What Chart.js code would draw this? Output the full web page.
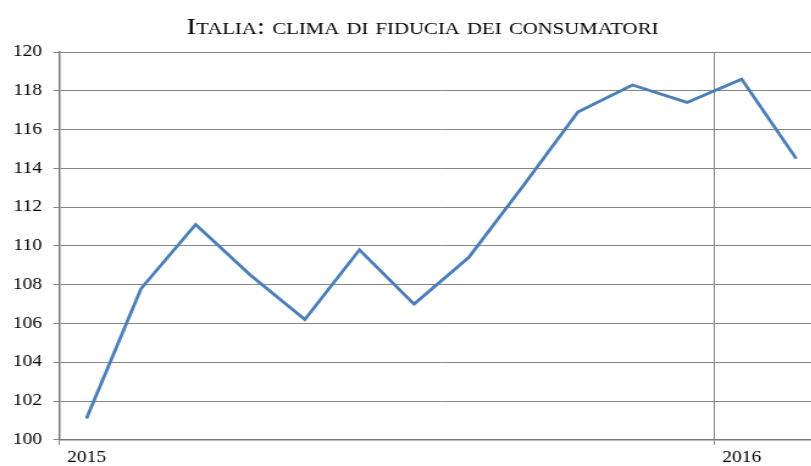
<!DOCTYPE html>
<html>
<head>
<meta charset="utf-8">
<script src="https://cdn.jsdelivr.net/npm/chart.js@4/dist/chart.umd.min.js"></script>
<style>
  html, body { margin: 0; padding: 0; background: #ffffff; overflow: hidden; width: 811px; height: 466px; }
  #wrap { position: absolute; left: 0; top: 0; width: 692px; height: 470px; transform: scaleX(1.22); transform-origin: 0 0; }
  canvas { display: block; }
</style>
</head>
<body>
<div id="wrap"><canvas id="c" width="692" height="470" style="width:692px;height:470px"></canvas></div>
<script>
// Monthly index, Jan 2015 – Feb 2016
const categories = ['2015','','','','','','','','','','','','2016',''];
const confidence = [101.1, 107.8, 111.1, 108.5, 106.2, 109.8, 107.0, 109.4, 113.1, 116.9, 118.3, 117.4, 118.6, 114.5];
const yTicks = { min: 100, max: 120, step: 2 };
const titleText = 'Italia: clima di fiducia dei consumatori';
const yearBoundaries = [0, 12];

const serif = "'Liberation Serif', 'Times New Roman', serif";
const gridGray = '#868686';

// shift the title block slightly to the right (it is centred over the full plot width in the original)
const titleShift = {
  id: 'titleShift',
  afterLayout(chart) {
    if (chart.titleBlock) { chart.titleBlock.left += 16; }
  }
};

new Chart(document.getElementById('c'), {
  type: 'line',
  data: {
    labels: categories,
    datasets: [{
      data: confidence,
      borderColor: '#4a7ebb',
      borderWidth: 2.8,
      pointRadius: 0,
      tension: 0,
      fill: false
    }]
  },
  plugins: [titleShift],
  options: {
    responsive: false,
    animation: false,
    devicePixelRatio: 1,
    layout: { padding: { left: 1.5, right: 17, top: 13, bottom: 0 } },
    plugins: {
      legend: { display: false },
      tooltip: { enabled: false },
      title: {
        display: true,
        text: titleText,
        color: '#000000',
        font: { family: serif, size: 24, weight: 'small-caps', lineHeight: 1.2 },
        padding: { top: 0, bottom: 10.2 }
      }
    },
    scales: {
      x: {
        type: 'category',
        offset: true,
        grid: {
          offset: true,
          color: (ctx) => yearBoundaries.includes(ctx.index) ? gridGray : 'rgba(0,0,0,0)',
          tickColor: (ctx) => yearBoundaries.includes(ctx.index) ? gridGray : 'rgba(0,0,0,0)',
          lineWidth: 1,
          tickLength: 5,
          drawTicks: true
        },
        border: { color: '#7a7a7a', width: 1.5 },
        ticks: {
          autoSkip: false,
          maxRotation: 0,
          padding: 3,
          color: '#000000',
          font: { family: serif, size: 16 }
        }
      },
      y: {
        min: yTicks.min,
        max: yTicks.max,
        grid: {
          color: gridGray,
          lineWidth: 1,
          tickLength: 5,
          drawTicks: true
        },
        border: { color: '#7a7a7a', width: 1.5 },
        ticks: {
          stepSize: yTicks.step,
          padding: 9,
          color: '#000000',
          font: { family: serif, size: 16 }
        }
      }
    }
  }
});
</script>
</body>
</html>
